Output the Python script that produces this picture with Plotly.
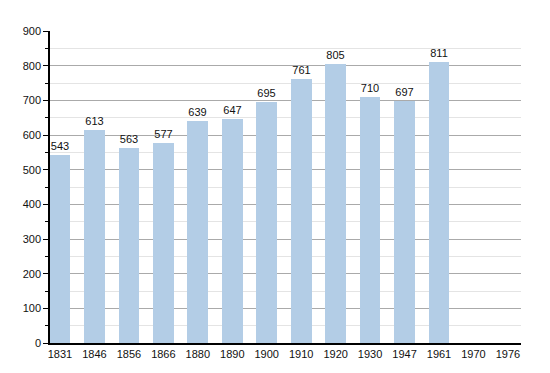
import plotly.graph_objects as go

years = ["1831", "1846", "1856", "1866", "1880", "1890", "1900", "1910", "1920", "1930", "1947", "1961", "1970", "1976"]
population = [543, 613, 563, 577, 639, 647, 695, 761, 805, 710, 697, 811, None, None]
y_ticks = [0, 100, 200, 300, 400, 500, 600, 700, 800, 900]

xpos = list(range(len(years)))
labels = [str(v) if v is not None else "" for v in population]

fig = go.Figure()
fig.add_trace(go.Bar(
    x=xpos, y=population, width=0.6,
    marker=dict(color="#b3cde6", line=dict(width=0)),
    text=labels, textposition="outside", cliponaxis=False,
    textfont=dict(size=11, color="#111111", family="Liberation Sans, Arial, sans-serif"),
))

fig.update_layout(
    width=550, height=373,
    margin=dict(l=50, r=29, t=31, b=30),
    plot_bgcolor="white", paper_bgcolor="white",
    showlegend=False,
    font=dict(family="Liberation Sans, Arial, sans-serif", size=11, color="#111111"),
    bargap=0,
)
fig.update_xaxes(
    range=[-0.29, 13.38], tickvals=xpos, ticktext=years,
    showline=True, linecolor="black", linewidth=1.5,
    showgrid=False, ticks="", zeroline=False, automargin=False,
)
fig.update_yaxes(
    range=[0, 900], tickvals=y_ticks,
    showline=True, linecolor="black", linewidth=1.5,
    showgrid=True, gridcolor="#aaaaaa", gridwidth=1,
    ticks="outside", ticklen=5, tickcolor="black",
    minor=dict(dtick=50, showgrid=True, gridcolor="#e4e4e4", ticks="outside", ticklen=3, tickcolor="black"),
    zeroline=False, automargin=False,
)

fig.write_html("out.html", config={"displayModeBar": False},
               post_script="document.body.style.margin='0';document.body.style.padding='0';")
